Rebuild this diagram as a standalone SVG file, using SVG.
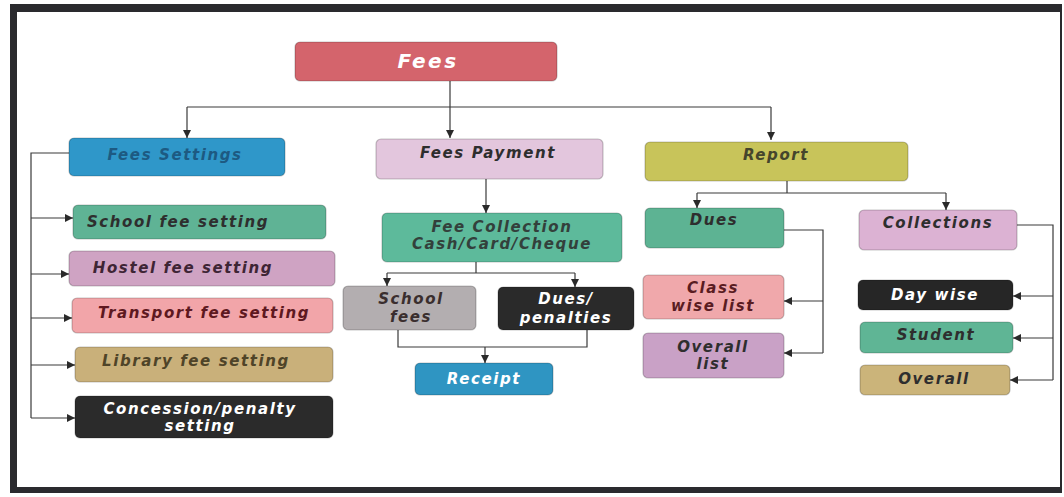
<svg xmlns="http://www.w3.org/2000/svg" width="1064" height="497" viewBox="0 0 1064 497">
  <defs>
    <marker id="arrow" markerUnits="userSpaceOnUse" markerWidth="9" markerHeight="8" refX="8" refY="4" orient="auto">
      <path d="M0,0 L8,4 L0,8 z" fill="#2a2a2a"/>
    </marker>
    <style>
      .box { stroke: rgba(0,0,0,0.22); stroke-width: 1.2; }
      .lbl { font-family: "DejaVu Sans", Verdana, sans-serif; font-weight: bold; font-style: italic; font-size: 15px; letter-spacing: 1.6px; text-anchor: middle; }
      .title { font-family: "DejaVu Sans", Verdana, sans-serif; font-weight: bold; font-style: italic; font-size: 20px; letter-spacing: 2.5px; text-anchor: middle; fill: #ffffff; }
      .light { fill: #ffffff; }
      .dark { fill: #2e2e2e; }
      .conn { fill: none; stroke: #3a3a3a; stroke-width: 1.2; }
    </style>
  </defs>

  <rect width="1064" height="497" fill="#ffffff"/>
  <!-- outer frame -->
  <g id="frame" fill="#2a2a2e">
    <rect x="10" y="4" width="1052" height="8"/>
    <rect x="10" y="4" width="7" height="489"/>
    <rect x="10" y="487" width="1052" height="6"/>
    <rect x="1060" y="4" width="2" height="489"/>
  </g>

  <!-- connectors -->
  <g id="connectors" class="conn">
    <path d="M450,81 V107 M187,107 H771"/>
    <path d="M187,107 V138" marker-end="url(#arrow)"/>
    <path d="M450,107 V138" marker-end="url(#arrow)"/>
    <path d="M771,107 V140" marker-end="url(#arrow)"/>

    <path d="M69,153 H31 V418"/>
    <path d="M31,218 H73" marker-end="url(#arrow)"/>
    <path d="M31,274 H69" marker-end="url(#arrow)"/>
    <path d="M31,318 H72" marker-end="url(#arrow)"/>
    <path d="M31,365 H75" marker-end="url(#arrow)"/>
    <path d="M31,418 H75" marker-end="url(#arrow)"/>

    <path d="M486,179 V213" marker-end="url(#arrow)"/>
    <path d="M476,262 V273 M387,273 H575"/>
    <path d="M387,273 V286" marker-end="url(#arrow)"/>
    <path d="M575,273 V287" marker-end="url(#arrow)"/>
    <path d="M398,330 V347 H587 V330"/>
    <path d="M485,347 V363" marker-end="url(#arrow)"/>

    <path d="M787,181 V193 M697,193 H946"/>
    <path d="M697,193 V208" marker-end="url(#arrow)"/>
    <path d="M946,193 V210" marker-end="url(#arrow)"/>
    <path d="M784,230 H823 V353"/>
    <path d="M823,301 H784" marker-end="url(#arrow)"/>
    <path d="M823,353 H784" marker-end="url(#arrow)"/>
    <path d="M1017,225 H1053 V380"/>
    <path d="M1053,296 H1013" marker-end="url(#arrow)"/>
    <path d="M1053,338 H1013" marker-end="url(#arrow)"/>
    <path d="M1053,380 H1010" marker-end="url(#arrow)"/>
  </g>

  <!-- root -->
  <g id="fees">
    <rect class="box" x="295" y="42" width="262" height="39" rx="5" fill="#d4646c"/>
    <text class="title" x="428" y="68">Fees</text>
  </g>

  <!-- Fees settings branch -->
  <g id="fees-settings">
    <rect class="box" x="69" y="138" width="216" height="38" rx="5" fill="#2f97c9"/>
    <text class="lbl" x="175" y="160" fill="#1d5a82">Fees Settings</text>
  </g>
  <g id="school-fee-setting">
    <rect class="box" x="73" y="205" width="253" height="34" rx="5" fill="#5fb395"/>
    <text class="lbl dark" x="178" y="227">School fee setting</text>
  </g>
  <g id="hostel-fee-setting">
    <rect class="box" x="69" y="251" width="266" height="35" rx="5" fill="#cfa3c3"/>
    <text class="lbl" x="183" y="273" fill="#3e2535">Hostel fee setting</text>
  </g>
  <g id="transport-fee-setting">
    <rect class="box" x="72" y="298" width="261" height="35" rx="5" fill="#f2a5a9"/>
    <text class="lbl" x="204" y="318" fill="#5e1820">Transport fee setting</text>
  </g>
  <g id="library-fee-setting">
    <rect class="box" x="75" y="347" width="258" height="35" rx="5" fill="#c9b07a"/>
    <text class="lbl" x="196" y="366" fill="#4f4428">Library fee setting</text>
  </g>
  <g id="concession-penalty-setting">
    <rect class="box" x="75" y="396" width="258" height="42" rx="5" fill="#2b2b2b"/>
    <text class="lbl light" x="200" y="414">Concession/penalty</text>
    <text class="lbl light" x="200" y="431">setting</text>
  </g>

  <!-- Fees payment branch -->
  <g id="fees-payment">
    <rect class="box" x="376" y="139" width="227" height="40" rx="5" fill="#e3c6dd"/>
    <text class="lbl dark" x="488" y="158">Fees Payment</text>
  </g>
  <g id="fee-collection">
    <rect class="box" x="382" y="213" width="240" height="49" rx="5" fill="#5dba9b"/>
    <text class="lbl" x="502" y="232" fill="#33403b">Fee Collection</text>
    <text class="lbl" x="502" y="249" fill="#33403b">Cash/Card/Cheque</text>
  </g>
  <g id="school-fees">
    <rect class="box" x="343" y="286" width="133" height="44" rx="5" fill="#b3aeb0"/>
    <text class="lbl" x="411" y="304" fill="#3a2e2e">School</text>
    <text class="lbl" x="411" y="322" fill="#3a2e2e">fees</text>
  </g>
  <g id="dues-penalties">
    <rect class="box" x="498" y="287" width="136" height="43" rx="5" fill="#2a2a2a"/>
    <text class="lbl light" x="566" y="304">Dues/</text>
    <text class="lbl light" x="566" y="323">penalties</text>
  </g>
  <g id="receipt">
    <rect class="box" x="415" y="363" width="138" height="32" rx="5" fill="#2f95c2"/>
    <text class="lbl light" x="484" y="384">Receipt</text>
  </g>

  <!-- Report branch -->
  <g id="report">
    <rect class="box" x="645" y="142" width="263" height="39" rx="5" fill="#c8c45a"/>
    <text class="lbl" x="776" y="160" fill="#45452c">Report</text>
  </g>
  <g id="dues">
    <rect class="box" x="645" y="208" width="139" height="40" rx="5" fill="#5db393"/>
    <text class="lbl dark" x="714" y="225">Dues</text>
  </g>
  <g id="collections">
    <rect class="box" x="859" y="210" width="158" height="40" rx="5" fill="#dcb2d3"/>
    <text class="lbl dark" x="938" y="228">Collections</text>
  </g>
  <g id="class-wise-list">
    <rect class="box" x="643" y="275" width="141" height="44" rx="5" fill="#f0a8ab"/>
    <text class="lbl" x="713" y="293" fill="#5a1c22">Class</text>
    <text class="lbl" x="713" y="311" fill="#5a1c22">wise list</text>
  </g>
  <g id="overall-list">
    <rect class="box" x="643" y="333" width="141" height="45" rx="5" fill="#c9a1c6"/>
    <text class="lbl dark" x="713" y="352">Overall</text>
    <text class="lbl dark" x="713" y="369">list</text>
  </g>
  <g id="day-wise">
    <rect class="box" x="858" y="280" width="155" height="30" rx="5" fill="#262626"/>
    <text class="lbl light" x="935" y="300">Day wise</text>
  </g>
  <g id="student">
    <rect class="box" x="860" y="322" width="153" height="31" rx="5" fill="#5fb595"/>
    <text class="lbl dark" x="936" y="340">Student</text>
  </g>
  <g id="overall">
    <rect class="box" x="860" y="365" width="150" height="30" rx="5" fill="#cbb47a"/>
    <text class="lbl dark" x="934" y="384">Overall</text>
  </g>
</svg>
